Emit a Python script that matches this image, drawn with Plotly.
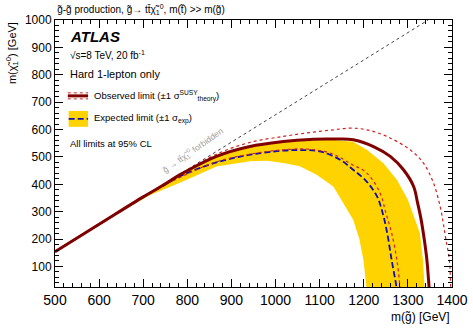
import plotly.graph_objects as go

# observed limit (solid)
obs_x = [500, 600, 700, 740, 790, 866, 942, 1018, 1078, 1131, 1176, 1222, 1260, 1290, 1313, 1322, 1330, 1337, 1343, 1348, 1349]
obs_y = [154, 254, 354, 392, 441, 502, 538, 556, 564, 565, 563, 538, 502, 453, 392, 332, 271, 200, 125, 25, 0]

# observed +1 sigma theory
obs_up_x = [500, 600, 700, 740, 800, 866, 942, 1018, 1078, 1131, 1169, 1207, 1252, 1305, 1335, 1358, 1373, 1380, 1386, 1394, 1397, 1398]
obs_up_y = [154, 254, 354, 393, 450, 510, 553, 575, 589, 599, 605, 599, 575, 526, 478, 405, 320, 260, 200, 125, 25, 0]

# observed -1 sigma theory
obs_dn_x = [500, 600, 700, 740, 800, 866, 942, 1018, 1078, 1131, 1169, 1207, 1237, 1250, 1263, 1275, 1282, 1283]
obs_dn_y = [154, 254, 354, 390, 438, 482, 510, 526, 528, 510, 476, 441, 368, 296, 223, 125, 25, 0]

# expected limit
exp_x = [500, 600, 700, 740, 791, 866, 942, 1017, 1060, 1101, 1146, 1176, 1206, 1230, 1242, 1253, 1263, 1274, 1275]
exp_y = [154, 254, 354, 390, 435, 480, 508, 523, 525, 520, 490, 453, 411, 356, 300, 223, 125, 25, 0]

# expected +-1 sigma band edges
exp_up_x = [500, 600, 700, 740, 800, 866, 942, 1018, 1078, 1131, 1176, 1207, 1244, 1275, 1300, 1316, 1327, 1334, 1338, 1339]
exp_up_y = [155, 255, 355, 393, 447, 500, 535, 553, 560, 562, 555, 526, 478, 417, 344, 271, 223, 125, 25, 0]
exp_dn_x = [500, 600, 680, 715, 791, 866, 942, 980, 1018, 1055, 1093, 1131, 1153, 1176, 1190, 1199, 1206, 1207]
exp_dn_y = [153, 253, 328, 360, 411, 465, 484, 486, 478, 466, 435, 392, 335, 271, 200, 125, 25, 0]

# kinematic boundary m(gluino) = 2 m(top) + m(neutralino)
diag_x = [500, 1346]
diag_y = [154, 1000]

FONT = "Liberation Sans, Arial, sans-serif"
DARKRED = "#800000"
RED = "#d42020"
YELLOW = "#ffd300"
BLUE = "#1010b0"

fig = go.Figure()
band_x = exp_up_x + exp_dn_x[::-1]
band_y = exp_up_y + exp_dn_y[::-1]
fig.add_trace(go.Scatter(x=band_x, y=band_y, fill="toself", fillcolor=YELLOW,
                         mode="lines", line=dict(width=0), hoverinfo="skip"))
fig.add_trace(go.Scatter(x=diag_x, y=diag_y, mode="lines",
                         line=dict(color="#444444", width=1, dash="3px,3px")))
fig.add_trace(go.Scatter(x=exp_x, y=exp_y, mode="lines", line_shape="spline",
                         line=dict(color=BLUE, width=1.8, dash="6px,3px")))
fig.add_trace(go.Scatter(x=obs_dn_x, y=obs_dn_y, mode="lines", line_shape="spline",
                         line=dict(color=RED, width=1.2, dash="dot")))
fig.add_trace(go.Scatter(x=obs_up_x, y=obs_up_y, mode="lines", line_shape="spline",
                         line=dict(color=RED, width=1.2, dash="dot")))
fig.add_trace(go.Scatter(x=obs_x, y=obs_y, mode="lines", line_shape="spline",
                         line=dict(color=DARKRED, width=3)))

axis = dict(showline=True, linecolor="black", linewidth=1, mirror="ticks",
            ticks="inside", ticklen=8, tickcolor="black", dtick=100,
            showgrid=False, zeroline=False, automargin=False,
            minor=dict(ticks="inside", ticklen=4, dtick=20, tickcolor="black", showgrid=False))
fig.update_xaxes(range=[500, 1400], tickfont=dict(family=FONT, size=14, color="black"), **axis)
fig.update_yaxes(range=[25, 1000], tickfont=dict(family=FONT, size=12, color="black"), **axis)

# legend drawn by hand
shapes = [
    dict(type="line", x0=529, x1=575, y0=734, y1=734, line=dict(color=RED, width=1, dash="dot")),
    dict(type="line", x0=529, x1=575, y0=712, y1=712, line=dict(color=RED, width=1, dash="dot")),
    dict(type="line", x0=529, x1=575, y0=723, y1=723, line=dict(color=DARKRED, width=3)),
    dict(type="rect", x0=531, x1=575, y0=610, y1=668, fillcolor=YELLOW, line=dict(width=0)),
    dict(type="line", x0=531, x1=575, y0=639, y1=639, line=dict(color=BLUE, width=1.8, dash="6px,3px")),
]
fig.update_layout(shapes=shapes)

txt = dict(family=FONT, size=11, color="black")
annos = [
    dict(x=0.0, y=1.0, xref="paper", yref="paper", xanchor="left", yanchor="bottom", yshift=2,
         text="g\u0303-g\u0303 production, g\u0303\u2192 tt\u0304\u03c7\u0303<sub>1</sub><sup>0</sup>, m(t\u0303) >> m(g\u0303)",
         font=dict(family=FONT, size=10, color="black")),
    dict(x=0.034, y=0.94, xref="paper", yref="paper", xanchor="left", yanchor="middle",
         text="<b><i>ATLAS</i></b>", font=dict(family=FONT, size=15, color="black")),
    dict(x=0.034, y=0.869, xref="paper", yref="paper", xanchor="left", yanchor="middle",
         text="\u221as=8 TeV, 20 fb<sup>-1</sup>", font=dict(family=FONT, size=10, color="black")),
    dict(x=0.034, y=0.798, xref="paper", yref="paper", xanchor="left", yanchor="middle",
         text="Hard 1-lepton only", font=txt),
    dict(x=583, y=723, xanchor="left", yanchor="middle",
         text="Observed limit (\u00b11 \u03c3<sup>SUSY</sup><sub>theory</sub>)", font=dict(family=FONT, size=9.5, color="black")),
    dict(x=583, y=639, xanchor="left", yanchor="middle",
         text="Expected limit (\u00b11 \u03c3<sub>exp</sub>)", font=dict(family=FONT, size=9.5, color="black")),
    dict(x=0.034, y=0.536, xref="paper", yref="paper", xanchor="left", yanchor="middle",
         text="All limits at 95% CL", font=dict(family=FONT, size=9.5, color="black")),
    dict(x=812, y=522, xanchor="center", yanchor="middle", textangle=-35,
         text="g\u0303 \u2192 tt\u0304\u03c7\u0303<sub>1</sub><sup>0</sup> forbidden",
         font=dict(family=FONT, size=8.5, color="#a0a0a0")),
    dict(x=1.0, y=-0.112, xref="paper", yref="paper", xanchor="right", yanchor="middle",
         text="m(g\u0303) [GeV]", font=dict(family=FONT, size=12, color="black")),
    dict(x=-0.108, y=1.0, xref="paper", yref="paper", xanchor="center", yanchor="top", textangle=-90,
         text="m(\u03c7\u0303<sub>1</sub><sup>0</sup>) [GeV]", font=dict(family=FONT, size=11, color="black")),
]
for a in annos:
    a.setdefault("showarrow", False)
fig.update_layout(annotations=annos)

fig.update_layout(width=473, height=329, margin=dict(l=55, r=21, t=20, b=42),
                  paper_bgcolor="white", plot_bgcolor="white", showlegend=False)
# drop the default 8px page margin so the figure fills the window
fig.write_html("out.html", config={"displayModeBar": False},
               post_script="document.body.style.margin='0';")
